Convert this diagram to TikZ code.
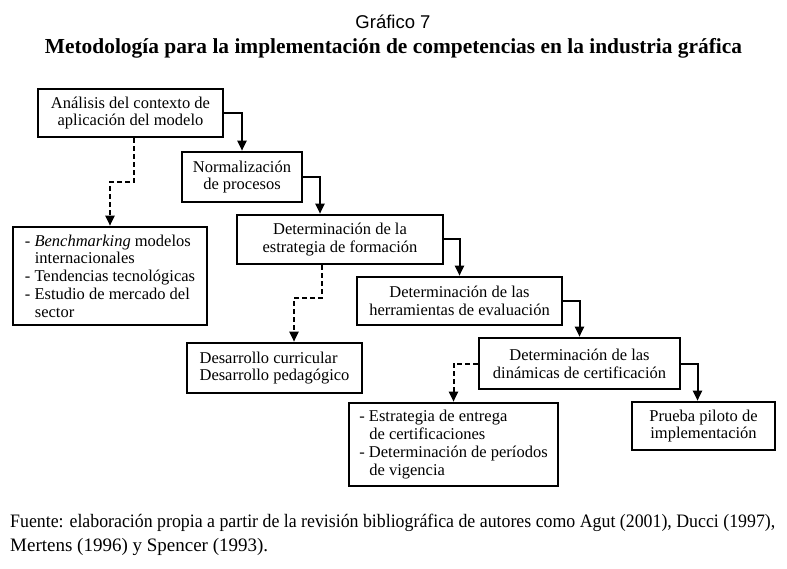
\documentclass[tikz,border=0pt]{standalone}
\usepackage{fontspec}
\setmainfont{Liberation Serif}
\newfontfamily\arialfont{Liberation Sans}
\usetikzlibrary{arrows.meta}
\tikzset{
  box/.style={draw, line width=2.6pt, inner sep=0pt, align=center,
    font=\fontsize{16.5}{17.8}\selectfont},
  lbox/.style={box, align=left},
  flow/.style={line width=2pt, -{Triangle[length=10pt,width=9pt]}},
  dflow/.style={flow, dash pattern=on 5pt off 3pt},
}
\begin{document}
\begin{tikzpicture}[x=1pt,y=-1pt]
\useasboundingbox (0,0) rectangle (787,569);
\node[font=\arialfont\fontsize{18.5}{20}\selectfont] (title) at (393,22) {Gráfico 7};
\node[font=\bfseries\fontsize{21.4}{23}\selectfont] (subtitle) at (393.5,48) {Metodología para la implementación de competencias en la industria gráfica};

\node[box, minimum width=185pt, minimum height=48pt] (b1) at (130.5,113) {Análisis del contexto de\\aplicación del modelo};
\node[box, minimum width=120pt, minimum height=50pt] (b2) at (242,177) {Normalización\\de procesos};
\node[lbox, minimum width=194pt, minimum height=98pt] (b3) at (110,276) {- \textit{Benchmarking} modelos\\\hspace*{10pt}internacionales\\- Tendencias tecnológicas\\- Estudio de mercado del\\\hspace*{10pt}sector};
\node[box, minimum width=206pt, minimum height=49pt] (b4) at (340,239.5) {Determinación de la\\estrategia de formación};
\node[box, minimum width=205pt, minimum height=48pt] (b5) at (459.5,301) {Determinación de las\\herramientas de evaluación};
\node[lbox, minimum width=175pt, minimum height=50pt] (b6) at (274.5,368) {Desarrollo curricular\\Desarrollo pedagógico};
\node[box, minimum width=201pt, minimum height=51pt] (b7) at (579.5,363.5) {Determinación de las\\dinámicas de certificación};
\node[lbox, minimum width=209pt, minimum height=83pt] (b8) at (453.5,444.5) {- Estrategia de entrega\\\hspace*{10pt}de certificaciones\\- Determinación de períodos\\\hspace*{10pt}de vigencia};
\node[box, minimum width=143pt, minimum height=48pt] (b9) at (703.5,426) {Prueba piloto de\\implementación};

\node[anchor=base west, align=left, inner sep=0pt, font=\fontsize{19}{24}\selectfont] (src) at (10,551) {\resizebox{765pt}{\height}{Fuente: elaboración propia a partir de la revisión bibliográfica de autores como Agut (2001), Ducci (1997),}\\Mertens (1996) y Spencer (1993).};

\draw[flow] (b1.east) -| (b2.north);
\draw[flow] (b2.east) -| ([xshift=-20pt]b4.north);
\draw[flow] (b4.east) -| (b5.north);
\draw[flow] (b5.east) -| (b7.north);
\draw[flow] (b7.east) -| ([xshift=-6pt]b9.north);

\coordinate (d1a) at ([xshift=3.5pt]b1.south);
\coordinate (d1b) at ([xshift=3.5pt,yshift=-44pt]b1.south);
\draw[dflow] (d1a) -- (d1b) -| (b3.north);
\coordinate (d2a) at ([xshift=-18pt]b4.south);
\coordinate (d2b) at ([xshift=-18pt,yshift=-33pt]b4.south);
\draw[dflow] (d2a) -- (d2b) -| ([xshift=19.5pt]b6.north);
\draw[dflow] (b7.west) -| (b8.north);
\end{tikzpicture}
\end{document}
